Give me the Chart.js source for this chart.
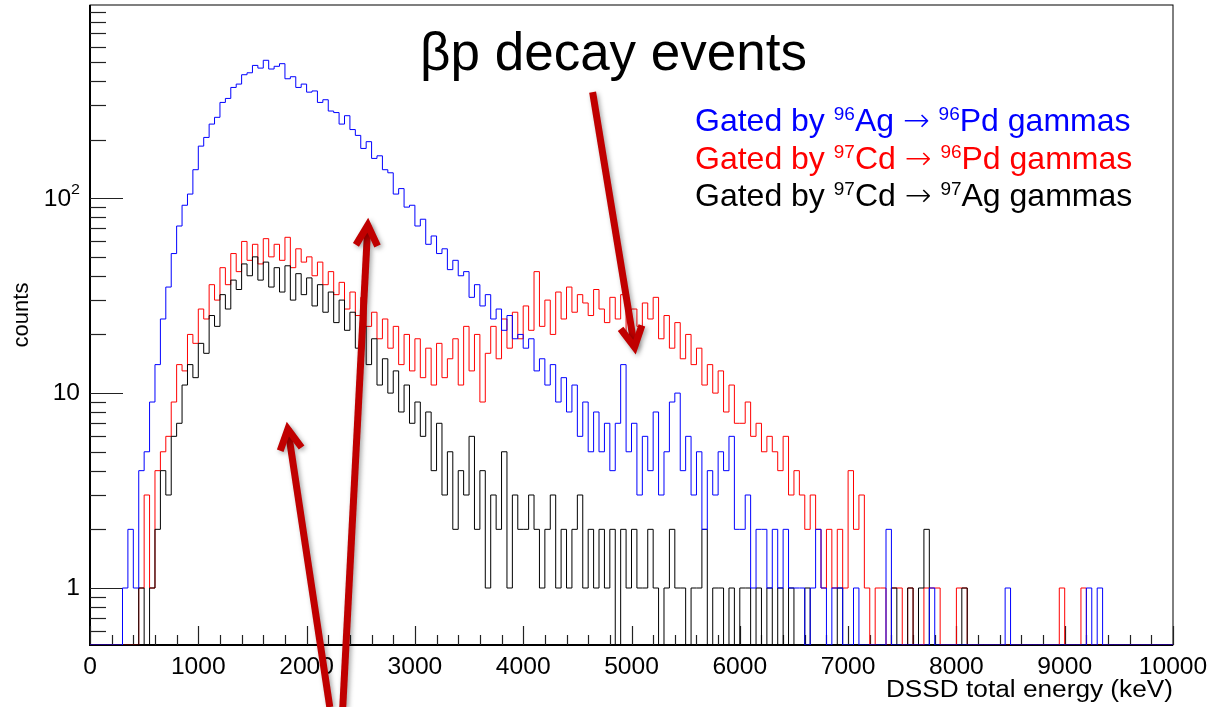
<!DOCTYPE html>
<html>
<head>
<meta charset="utf-8">
<script src="https://cdn.jsdelivr.net/npm/chart.js@4.4.1/dist/chart.umd.min.js"></script>
<style>
  html, body { margin: 0; padding: 0; background: #fff; }
  canvas { display: block; }
</style>
</head>
<body>
<canvas id="chart" width="1211" height="707"></canvas>
<script>
// histogram binning (keV)
const binStart = 0;
const binWidth = 50;

const xTickValues = [0, 1000, 2000, 3000, 4000, 5000, 6000, 7000, 8000, 9000, 10000];
const xTickLabels = ['0', '1000', '2000', '3000', '4000', '5000', '6000', '7000', '8000', '9000', '10000'];
const yTickValues = [1, 10, 100];
const yTickLabels = [['1', ''], ['10', ''], ['10', '2']];

// counts per 50 keV bin
const blueCounts = [
  0, 0, 0, 0, 0, 0, 1, 2, 1, 4,
  5, 9, 14, 24, 35, 52, 72, 92, 105, 140,
  185, 205, 240, 260, 310, 325, 370, 385, 430, 440,
  480, 465, 510, 460, 475, 490, 410, 420, 370, 385,
  350, 355, 310, 320, 280, 275, 240, 265, 225, 210,
  180, 195, 160, 165, 140, 135, 105, 112, 90, 92,
  72, 78, 58, 64, 52, 55, 43, 48, 40, 42,
  31, 36, 28, 32, 24, 27, 21, 25, 19, 20,
  17, 19, 13, 15, 11, 14, 9, 12, 8, 11,
  6, 9, 5, 8, 5, 7, 4, 7, 14, 5,
  7, 3, 6, 4, 8, 3, 5, 9, 10, 4,
  6, 3, 5, 2, 4, 3, 5, 4, 6, 2,
  2, 3, 1, 2, 2, 1, 2, 1, 2, 1,
  1, 1, 0, 1, 2, 1, 0, 1, 1, 0,
  0, 1, 0, 0, 0, 0, 0, 2, 0, 0,
  0, 0, 0, 0, 0, 1, 0, 0, 0, 0,
  0, 0, 0, 0, 0, 0, 0, 0, 0, 1,
  0, 0, 0, 0, 0, 0, 0, 0, 0, 0,
  0, 0, 0, 0, 1, 0, 1, 0, 0, 0,
  0, 0, 0, 0, 0, 0, 0, 0, 0, 0
];
const redCounts = [
  0, 0, 0, 0, 0, 0, 0, 0, 0, 1,
  3, 1, 4, 5, 6, 9, 14, 13, 20, 18,
  27, 24, 36, 30, 44, 36, 52, 42, 60, 48,
  58, 46, 62, 50, 58, 48, 63, 44, 55, 47,
  50, 40, 47, 36, 42, 32, 37, 27, 33, 25,
  31, 22, 26, 19, 24, 17, 22, 14, 20, 13,
  19, 12, 17, 11, 18, 12, 15, 19, 11, 22,
  13, 20, 9, 16, 22, 15, 24, 17, 26, 19,
  28, 21, 42, 22, 30, 20, 33, 24, 35, 26,
  32, 29, 25, 34, 27, 23, 31, 24, 32, 19,
  27, 22, 29, 24, 31, 19, 25, 17, 23, 15,
  20, 14, 17, 11, 14, 10, 13, 8, 11, 7,
  7, 9, 6, 7, 5, 6, 5, 4, 6, 3,
  4, 3, 2, 3, 2, 1, 2, 1, 2, 1,
  4, 2, 3, 1, 0, 1, 1, 0, 1, 1,
  0, 1, 0, 0, 1, 1, 1, 0, 0, 0,
  1, 1, 0, 0, 0, 0, 0, 0, 0, 0,
  0, 0, 0, 0, 0, 0, 0, 0, 0, 1,
  0, 0, 0, 1, 0, 0, 0, 0, 0, 0,
  0, 0, 0, 0, 0, 0, 0, 0, 0, 0
];
const blackCounts = [
  0, 0, 0, 0, 0, 0, 0, 0, 0, 1,
  0, 1, 2, 4, 3, 6, 7, 11, 14, 12,
  18, 16, 25, 22, 32, 27, 38, 34, 46, 40,
  50, 38, 47, 35, 44, 33, 45, 30, 41, 32,
  39, 28, 36, 26, 33, 23, 30, 21, 26, 17,
  22, 14, 19, 11, 15, 10, 13, 8, 11, 7,
  9, 6, 8, 4, 7, 3, 5, 2, 4, 3,
  6, 2, 4, 1, 3, 2, 5, 1, 3, 2,
  2, 3, 2, 1, 2, 3, 1, 2, 1, 2,
  3, 1, 2, 1, 2, 1, 2, 0, 2, 1,
  2, 1, 1, 2, 1, 0, 1, 2, 1, 1,
  0, 1, 1, 2, 0, 1, 1, 0, 1, 0,
  1, 1, 0, 1, 0, 1, 0, 1, 0, 1,
  0, 0, 1, 0, 0, 0, 0, 0, 1, 0,
  0, 0, 0, 0, 0, 0, 0, 0, 1, 0,
  0, 1, 0, 1, 2, 0, 0, 0, 0, 0,
  0, 1, 0, 0, 0, 0, 0, 0, 0, 0,
  0, 0, 0, 0, 0, 0, 0, 0, 0, 0,
  0, 0, 0, 0, 0, 0, 0, 0, 0, 0,
  0, 0, 0, 0, 0, 0, 0, 0, 0, 0
];

const Y_MIN = 0.51;
const Y_MAX = 980;
const FONT = '"Liberation Sans", Arial, Helvetica, sans-serif';
const ARROW_FONT = '"DejaVu Sans", sans-serif';
const ARROW_RED = '#c00000';

// arrows in data coordinates: [tailX, tailY, headX, headY]
const arrows = [
  [4641, 350, 5028, 17.2],
  [2214, 0.245, 1827, 6.54],
  [2334, 0.245, 2565, 72.7]
];

// text parts: 0 = normal, 1 = superscript, 2 = arrow glyph
const legendLines = [
  { color: '#0000ff', parts: [['Gated by ', 0], ['96', 1], ['Ag ', 0], ['\u2192', 2], [' ', 0], ['96', 1], ['Pd gammas', 0]] },
  { color: '#ff0000', parts: [['Gated by ', 0], ['97', 1], ['Cd ', 0], ['\u2192', 2], [' ', 0], ['96', 1], ['Pd gammas', 0]] },
  { color: '#000000', parts: [['Gated by ', 0], ['97', 1], ['Cd ', 0], ['\u2192', 2], [' ', 0], ['97', 1], ['Ag gammas', 0]] }
];

// zero bins sit on the bottom of the frame, like ROOT does on a log axis
function toSteps(counts) {
  const pts = counts.map((c, i) => ({ x: binStart + i * binWidth, y: c > 0 ? c : Y_MIN }));
  pts.push({ x: binStart + counts.length * binWidth, y: pts[pts.length - 1].y });
  return pts;
}

function stretchText(ctx, text, x, y, align, sx) {
  ctx.save();
  ctx.translate(x, y);
  ctx.scale(sx, 1);
  ctx.textAlign = align;
  ctx.fillText(text, 0, 0);
  ctx.restore();
}

function drawArrow(ctx, x1, y1, x2, y2) {
  const ang = Math.atan2(y2 - y1, x2 - x1);
  const wing = 23, spread = 28 * Math.PI / 180;
  ctx.save();
  ctx.strokeStyle = ARROW_RED;
  ctx.lineWidth = 7;
  ctx.lineJoin = 'miter';
  ctx.shadowColor = 'rgba(0,0,0,0.35)';
  ctx.shadowBlur = 5;
  ctx.shadowOffsetX = 2;
  ctx.shadowOffsetY = 2;
  ctx.beginPath();
  ctx.moveTo(x1, y1);
  ctx.lineTo(x2, y2);
  ctx.stroke();
  ctx.beginPath();
  ctx.moveTo(x2 - wing * Math.cos(ang - spread), y2 - wing * Math.sin(ang - spread));
  ctx.lineTo(x2, y2);
  ctx.lineTo(x2 - wing * Math.cos(ang + spread), y2 - wing * Math.sin(ang + spread));
  ctx.stroke();
  ctx.restore();
}

const rootFrame = {
  id: 'rootFrame',
  beforeDatasetsDraw(chart) {
    const { ctx, chartArea: a, scales: { x, y } } = chart;
    ctx.save();
    ctx.strokeStyle = '#000';
    ctx.lineWidth = 1;
    ctx.strokeRect(a.left, a.top, a.right - a.left, a.bottom - a.top);
    ctx.lineWidth = 2;
    ctx.beginPath();
    ctx.moveTo(a.left, a.top);
    ctx.lineTo(a.left, a.bottom);
    ctx.lineTo(a.right, a.bottom);
    ctx.stroke();

    // x ticks, inside the frame
    ctx.lineWidth = 1.2;
    ctx.strokeStyle = '#222';
    for (let v = 0; v <= 10000; v += 200) {
      const px = Math.round(x.getPixelForValue(v)) + 0.5;
      const len = v % 1000 === 0 ? 19 : 10;
      ctx.beginPath();
      ctx.moveTo(px, a.bottom);
      ctx.lineTo(px, a.bottom - len);
      ctx.stroke();
    }
    // y ticks
    for (let dec = 0.1; dec <= 100; dec *= 10) {
      for (let m = 1; m <= 9; m++) {
        const v = dec * m;
        if (v < Y_MIN || v > Y_MAX) continue;
        const py = Math.round(y.getPixelForValue(v)) + 0.5;
        const len = m === 1 ? 33 : 16;
        ctx.beginPath();
        ctx.moveTo(a.left, py);
        ctx.lineTo(a.left + len, py);
        ctx.stroke();
      }
    }
    ctx.restore();
  },
  afterDraw(chart) {
    const { ctx, chartArea: a, scales: { x, y } } = chart;
    ctx.save();
    ctx.fillStyle = '#000';

    // tick labels (ROOT text looks a little stretched sideways)
    const sx = 1.07;
    ctx.font = '23px ' + FONT;
    ctx.textBaseline = 'alphabetic';
    xTickValues.forEach((v, i) => {
      stretchText(ctx, xTickLabels[i], x.getPixelForValue(v), 674, 'center', sx);
    });
    ctx.textBaseline = 'middle';
    yTickValues.forEach((v, i) => {
      const py = y.getPixelForValue(v);
      const [base, sup] = yTickLabels[i];
      let right = 80;
      if (sup) {
        ctx.font = '15px ' + FONT;
        const w = ctx.measureText(sup).width * sx;
        stretchText(ctx, sup, right, py - 8, 'right', sx);
        right -= w;
        ctx.font = '23px ' + FONT;
      }
      stretchText(ctx, base, right, py + 1, 'right', sx);
    });

    // axis titles
    ctx.textBaseline = 'alphabetic';
    ctx.font = '23px ' + FONT;
    stretchText(ctx, 'DSSD total energy (keV)', a.right, 697, 'right', 1.14);
    ctx.save();
    ctx.translate(22, 315);
    ctx.rotate(-Math.PI / 2);
    ctx.font = '22px ' + FONT;
    ctx.textAlign = 'center';
    ctx.textBaseline = 'middle';
    ctx.fillText('counts', 0, 0);
    ctx.restore();

    // legend text with superscripts
    const size = 32;
    legendLines.forEach((line, k) => {
      let cx = 695;
      const by = 131 + k * 37.5;
      ctx.fillStyle = line.color;
      ctx.textAlign = 'left';
      line.parts.forEach(([t, kind]) => {
        if (kind === 1) {
          ctx.font = Math.round(size * 0.58) + 'px ' + FONT;
          ctx.fillText(t, cx, by - 11);
        } else if (kind === 2) {
          ctx.font = '300 ' + size + 'px ' + ARROW_FONT;
          ctx.fillText(t, cx, by);
        } else {
          ctx.font = size + 'px ' + FONT;
          ctx.fillText(t, cx, by);
        }
        cx += ctx.measureText(t).width;
      });
    });

    // headline
    ctx.fillStyle = '#000';
    ctx.font = '53px ' + FONT;
    ctx.textAlign = 'left';
    ctx.fillText('\u03B2p decay events', 420, 70);

    // arrows
    arrows.forEach(([tx, ty, hx, hy]) => {
      drawArrow(ctx, x.getPixelForValue(tx), y.getPixelForValue(ty),
                     x.getPixelForValue(hx), y.getPixelForValue(hy));
    });
    ctx.restore();
  }
};

new Chart(document.getElementById('chart'), {
  type: 'line',
  data: {
    datasets: [
      { label: '96Ag', data: toSteps(blueCounts), borderColor: '#0000ff' },
      { label: '97Cd -> 97Ag', data: toSteps(blackCounts), borderColor: '#000000' },
      { label: '97Cd -> 96Pd', data: toSteps(redCounts), borderColor: '#ff0000' }
    ]
  },
  options: {
    responsive: false,
    animation: false,
    devicePixelRatio: 1,
    layout: { padding: { left: 90, top: 5, right: 38, bottom: 62 } },
    plugins: { legend: { display: false }, tooltip: { enabled: false } },
    elements: {
      point: { radius: 0 },
      line: { borderWidth: 1, tension: 0, stepped: true, fill: false }
    },
    scales: {
      x: { type: 'linear', min: 0, max: 10000, display: false },
      y: { type: 'logarithmic', min: Y_MIN, max: Y_MAX, display: false }
    }
  },
  plugins: [rootFrame]
});
</script>
</body>
</html>
